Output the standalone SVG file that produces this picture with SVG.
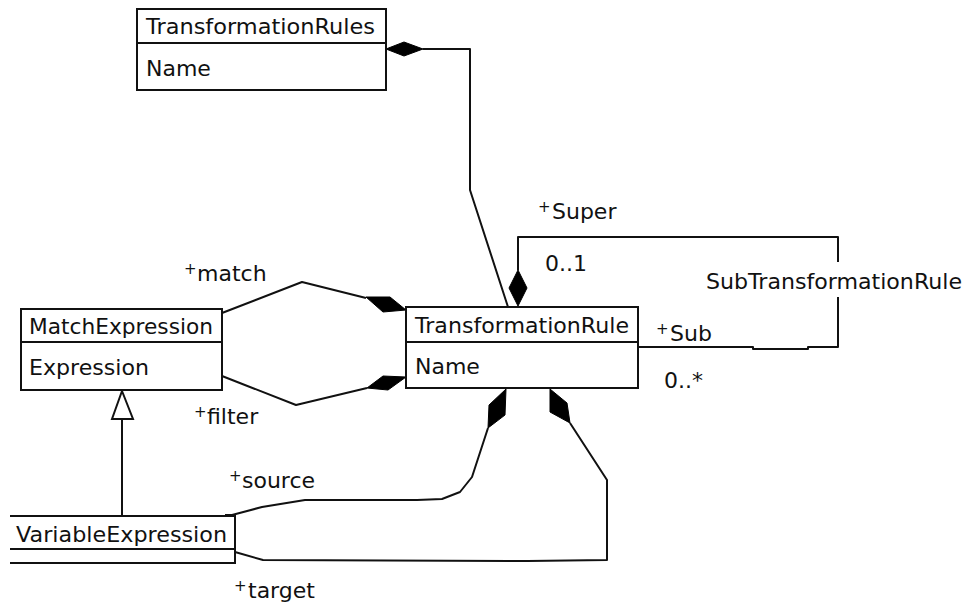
<svg xmlns="http://www.w3.org/2000/svg" width="967" height="604" viewBox="0 0 967 604">
  <style>
    .box { fill: #ffffff; stroke: #111111; stroke-width: 2; }
    .sep { stroke: #111111; stroke-width: 2; fill: none; }
    .edge { fill: none; stroke: #111111; stroke-width: 2; stroke-linejoin: round; }
    .dia { fill: #000000; stroke: #000000; stroke-width: 1; }
    .gen { fill: #ffffff; stroke: #111111; stroke-width: 2; }
    text { font-family: "DejaVu Sans", "Liberation Sans", sans-serif; font-size: 22px; fill: #111111; }
    .p { font-size: 15px; }
  </style>

  <rect width="967" height="604" fill="#ffffff"/>

  <!-- connectors -->
  <g id="connectors">
    <!-- TransformationRules owns TransformationRule -->
    <polyline class="edge" points="423,49 470,49 470,190 508,307"/>
    <polygon class="dia" points="386,49 404,42 423,49 404,56"/>

    <!-- match -->
    <polyline class="edge" points="222,313 302,282 366,298"/>
    <polygon class="dia" points="366,297 390,297 406,310 383,312"/>

    <!-- filter -->
    <polyline class="edge" points="222,376 296,405 367,388"/>
    <polygon class="dia" points="367,388 383,376 406,377 388,390"/>

    <!-- source -->
    <polyline class="edge" points="225,515 232,515 262,507 305,500 417,500 442,499 460,492 472,477 488,428"/>
    <polygon class="dia" points="506,389 489,405 488,428 505,415"/>

    <!-- target -->
    <polyline class="edge" points="213,551 235,552 263,560 528,561 607,560 607,480 570,423"/>
    <polygon class="dia" points="550,389 550,412 570,423 567,403"/>

    <!-- SubTransformationRule self association -->
    <polyline class="edge" points="638,347 753,347 753,349 808,349 808,347 838,347 838,297"/>
    <polyline class="edge" points="838,262 838,237 518,237 518,270"/>
    <polygon class="dia" points="518,270 527,288 518,306 509,288"/>

    <!-- generalization VariableExpression -> MatchExpression -->
    <line class="edge" x1="122" y1="419" x2="122" y2="516"/>
    <polygon class="gen" points="122,391 133,419 112,419"/>

    <!-- role labels -->
    <text x="184" y="281"><tspan class="p" dy="-7">+</tspan><tspan x="197" dy="7">match</tspan></text>
    <text x="194" y="424"><tspan class="p" dy="-7">+</tspan><tspan x="207" dy="7">filter</tspan></text>
    <text x="229" y="488"><tspan class="p" dy="-7">+</tspan><tspan x="242" dy="7">source</tspan></text>
    <text x="234" y="598"><tspan class="p" dy="-7">+</tspan><tspan x="248" dy="7">target</tspan></text>
    <text x="538" y="219"><tspan class="p" dy="-7">+</tspan><tspan x="552" dy="7">Super</tspan></text>
    <text x="545" y="271">0..1</text>
    <text x="656" y="341"><tspan class="p" dy="-7">+</tspan><tspan x="670" dy="7">Sub</tspan></text>
    <text x="664" y="388">0..*</text>
    <text x="706" y="289" textLength="256" lengthAdjust="spacingAndGlyphs">SubTransformationRule</text>
  </g>

  <!-- classes -->
  <g id="TransformationRules">
    <rect class="box" x="137" y="9" width="249" height="81"/>
    <line class="sep" x1="137" y1="43" x2="386" y2="43"/>
    <text x="146" y="34" textLength="229" lengthAdjust="spacingAndGlyphs">TransformationRules</text>
    <text x="146" y="76">Name</text>
  </g>

  <g id="MatchExpression">
    <rect class="box" x="21" y="309" width="201" height="81"/>
    <line class="sep" x1="21" y1="342" x2="222" y2="342"/>
    <text x="29" y="334" textLength="184" lengthAdjust="spacingAndGlyphs">MatchExpression</text>
    <text x="29" y="375" textLength="120" lengthAdjust="spacingAndGlyphs">Expression</text>
  </g>

  <g id="TransformationRule">
    <rect class="box" x="406" y="307" width="232" height="81"/>
    <line class="sep" x1="406" y1="342" x2="638" y2="342"/>
    <text x="415" y="333" textLength="214" lengthAdjust="spacingAndGlyphs">TransformationRule</text>
    <text x="415" y="374">Name</text>
  </g>

  <g id="VariableExpression">
    <rect x="10" y="516" width="225" height="47" fill="#ffffff"/>
    <polyline class="sep" points="10,516 235,516 235,563 10,563"/>
    <line class="sep" x1="10" y1="549" x2="235" y2="549"/>
    <text x="16" y="542" textLength="211" lengthAdjust="spacingAndGlyphs">VariableExpression</text>
  </g>
</svg>
